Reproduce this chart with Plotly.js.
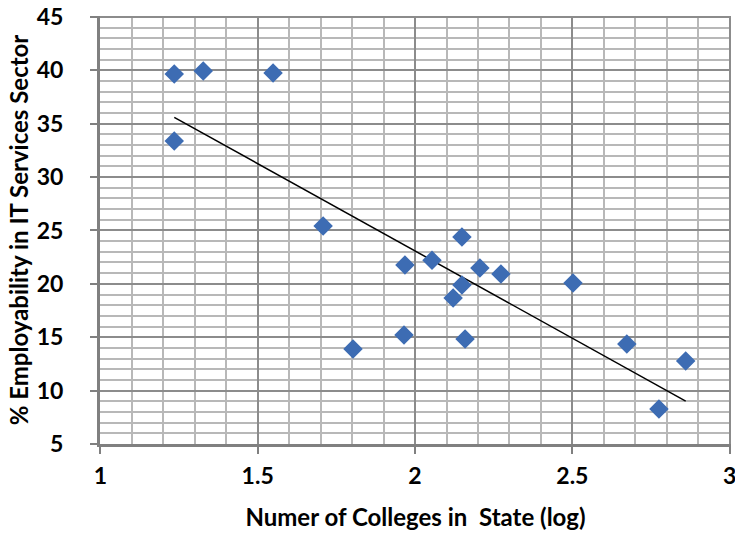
<!DOCTYPE html>
<html>
<head>
<meta charset="utf-8">
<script src="https://cdn.plot.ly/plotly-3.0.1.min.js"></script>
<style>html,body{margin:0;padding:0;background:#fff;} #chart{width:735px;height:536px;}</style>
</head>
<body>
<div id="chart"></div>
<script>
// Data
const collegesLog = [1.235, 1.327, 1.549, 1.235, 1.708, 1.968, 2.054, 2.149, 2.206, 2.273, 2.149, 2.121, 2.502, 1.965, 1.803, 2.159, 2.673, 2.860, 2.775];
const employability = [39.66, 39.94, 39.75, 33.38, 25.42, 21.77, 22.2, 24.39, 21.49, 20.93, 19.9, 18.68, 20.08, 15.21, 13.90, 14.84, 14.37, 12.78, 8.28];
const xTickVals = [1, 1.5, 2, 2.5, 3];
const xTickText = ['1', '1.5', '2', '2.5', '3'];
const yTickVals = [5, 10, 15, 20, 25, 30, 35, 40, 45];

// Linear trendline (least squares) computed from the data
const n = collegesLog.length;
const mx = collegesLog.reduce((a, b) => a + b, 0) / n;
const my = employability.reduce((a, b) => a + b, 0) / n;
let sxy = 0, sxx = 0;
for (let i = 0; i < n; i++) {
  sxy += (collegesLog[i] - mx) * (employability[i] - my);
  sxx += (collegesLog[i] - mx) ** 2;
}
const slope = sxy / sxx;
const intercept = my - slope * mx;
const trendX = [Math.min(...collegesLog), Math.max(...collegesLog)];
const trendY = trendX.map(x => intercept + slope * x);

const fam = 'Lato, "Open Sans", sans-serif';
const tickFont = {family: fam, size: 23, color: '#000', weight: 'bold'};
const titleFont = {family: fam, size: 24, color: '#000', weight: 'bold'};

const traces = [
  {x: trendX, y: trendY, mode: 'lines', type: 'scatter', line: {color: '#000', width: 1.5}},
  {x: collegesLog, y: employability, mode: 'markers', type: 'scatter',
   marker: {symbol: 'diamond', size: 15, color: '#3D6CB3'}}
];

const layout = {
  width: 735, height: 536,
  margin: {l: 100, r: 4, t: 16, b: 92},
  paper_bgcolor: '#fff', plot_bgcolor: '#fff',
  showlegend: false,
  xaxis: {
    range: [0.999, 3.004], tickvals: xTickVals, ticktext: xTickText,
    ticks: 'outside', ticklen: 7, tickwidth: 2, tickcolor: '#808080',
    ticklabelstandoff: 2, ticklabeloverflow: 'allow',
    showline: true, linecolor: '#808080', linewidth: 3,
    showgrid: true, gridcolor: '#8c8c8c', gridwidth: 2,
    minor: {dtick: 0.1, showgrid: true, gridcolor: '#b8b8b8', gridwidth: 2, ticks: ''},
    zeroline: false, automargin: false,
    tickfont: tickFont,
    title: {text: 'Numer of Colleges in  State (log)', standoff: 22, font: titleFont}
  },
  yaxis: {
    range: [4.99, 45.1], tickvals: yTickVals,
    ticks: 'outside', ticklen: 7, tickwidth: 2, tickcolor: '#808080',
    ticklabelstandoff: 22,
    showline: true, linecolor: '#808080', linewidth: 3,
    showgrid: true, gridcolor: '#8c8c8c', gridwidth: 2,
    minor: {dtick: 1, showgrid: true, gridcolor: '#b8b8b8', gridwidth: 2, ticks: ''},
    zeroline: false, automargin: false,
    tickfont: tickFont,
    title: {text: '% Employability in IT Services Sector', standoff: 2, font: titleFont}
  }
};

Plotly.newPlot('chart', traces, layout, {displayModeBar: false, staticPlot: true});
</script>
</body>
</html>
